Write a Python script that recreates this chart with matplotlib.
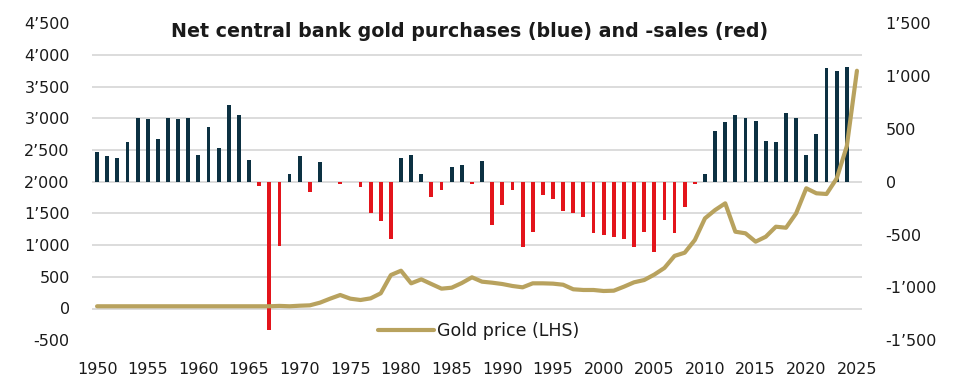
import matplotlib
matplotlib.use("Agg")
import matplotlib.pyplot as plt

# ---------------- data ----------------
years = list(range(1950, 2025))
net_purchases = [279, 241, 222, 380, 602, 590, 400, 602, 590, 602,
                 254, 520, 317, 723, 628, 209, -38, -1407, -609, 70,
                 241, -95, 190, 0, -22, 0, -54, -292, -374, -539,
                 222, 254, 70, -146, -82, 136, 158, -22, 197, -412,
                 -225, -82, -615, -479, -130, -165, -279, -298, -330, -482,
                 -501, -520, -539, -615, -479, -663, -361, -482, -241, -22,
                 76, 476, 564, 628, 602, 577, 387, 374, 653, 602,
                 254, 447, 1075, 1049, 1084]

gold_years = list(range(1950, 2026))
gold_price = [35, 35, 35, 35, 35, 35, 35, 35, 35, 35,
              35, 35, 35, 35, 35, 35, 35, 35, 41, 35,
              44, 50, 92, 155, 213, 155, 134, 160, 240, 528,
              596, 397, 460, 386, 313, 328, 402, 492, 423, 407,
              386, 355, 334, 397, 397, 392, 375, 303, 292, 292,
              276, 281, 344, 413, 449, 535, 640, 830, 880, 1080,
              1422, 1553, 1659, 1211, 1186, 1054, 1132, 1290, 1274, 1501,
              1896, 1817, 1806, 2050, 2560, 3750]

left_ticks = [-500, 0, 500, 1000, 1500, 2000, 2500, 3000, 3500, 4000, 4500]
grid_values = [0, 500, 1000, 1500, 2000, 2500, 3000, 3500, 4000]
right_ticks = [-1500, -1000, -500, 0, 500, 1000, 1500]
x_ticks = [1950, 1955, 1960, 1965, 1970, 1975, 1980, 1985, 1990, 1995,
           2000, 2005, 2010, 2015, 2020, 2025]

title = "Net central bank gold purchases (blue) and -sales (red)"
legend_label = "Gold price (LHS)"

# ---------------- style ----------------
NAVY = "#0c3142"
RED = "#e3141b"
GOLD = "#b8a25e"
GRID = "#d9d9d9"
TXT = "#1a1a1a"
FONT = ["DejaVu Sans"]
plt.rcParams["font.family"] = FONT


def fmt(v):
    s = f"{abs(v):,}".replace(",", "\u2019")
    return ("-" + s) if v < 0 else s


fig = plt.figure(figsize=(9.58, 3.86), dpi=100)
L, R = 92 / 958, 862 / 958
B, T = (386 - 340.2) / 386, (386 - 23.2) / 386
ax = fig.add_axes([L, B, R - L, T - B])        # bars, right-hand scale
ax2 = ax.twinx()                                # gold line, left-hand scale

# bars
colors = [NAVY if v >= 0 else RED for v in net_purchases]
ax.bar(years, net_purchases, width=0.38, color=colors, zorder=2)
ax.set_ylim(-1500, 1500)
ax.set_xlim(1949.5, 2025.5)

# gold line
ax2.plot(gold_years, gold_price, color=GOLD, lw=3.0, solid_capstyle="round",
         solid_joinstyle="round", label=legend_label, zorder=3)
ax2.set_ylim(-500, 4500)

# gridlines (left-scale values) drawn beneath the bars
for g in grid_values:
    ax2_to_ax = (g - (-500)) / 5000 * 3000 - 1500
    ax.axhline(ax2_to_ax, color=GRID, lw=1.3, zorder=1)

# axis placement: line scale on the left, bar scale on the right
ax.yaxis.tick_right()
ax2.yaxis.tick_left()
ax.set_yticks(right_ticks)
ax.set_yticklabels([fmt(v) for v in right_ticks])
ax2.set_yticks(left_ticks)
ax2.set_yticklabels([fmt(v) for v in left_ticks])
ax.set_xticks(x_ticks)
ax.set_xticklabels([str(v) for v in x_ticks])

for a in (ax, ax2):
    for s in a.spines.values():
        s.set_visible(False)
    a.patch.set_visible(False)
ax.tick_params(axis="y", length=0, pad=17, labelsize=11.5, labelcolor=TXT)
ax2.tick_params(axis="y", length=0, pad=16, labelsize=11.5, labelcolor=TXT)
ax.tick_params(axis="x", length=0, pad=16, labelsize=11.5, labelcolor=TXT)
ax2.tick_params(axis="x", length=0)

fig.text(0.49, 1 - 31.5 / 386, title, ha="center", va="center",
         fontsize=13.7, fontweight="bold", color=TXT)

fig.legend(loc="center", bbox_to_anchor=(479 / 958, (386 - 331) / 386),
           frameon=False, fontsize=12.5, handlelength=3.2, handletextpad=0.2,
           labelcolor=TXT)

fig.savefig("out.png", dpi=100)
